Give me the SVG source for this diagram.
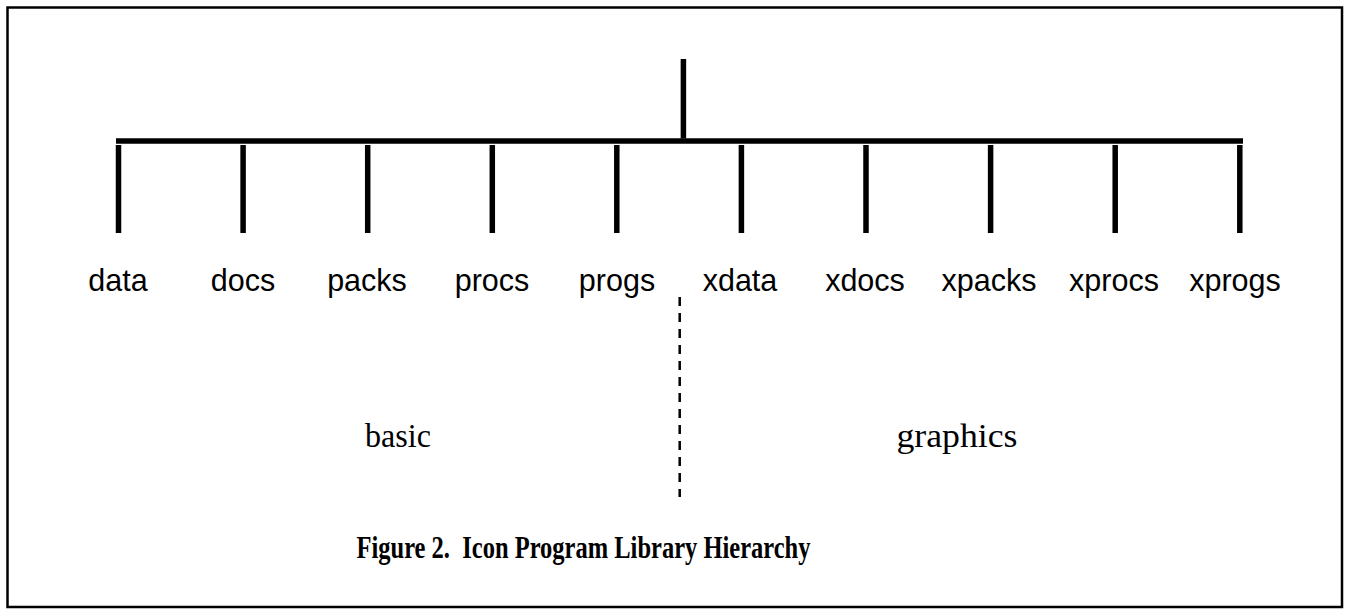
<svg xmlns="http://www.w3.org/2000/svg" width="1348" height="610" viewBox="0 0 1348 610">
<style>
.frame{fill:none;stroke:#000;stroke-width:2.5}
.bar{stroke:#000;stroke-width:5.5;fill:none}
.dash{stroke:#000;stroke-width:2.5;stroke-dasharray:9 7;fill:none}
.lbl{font-family:"Liberation Sans",Arial,sans-serif;font-size:30.5px;text-anchor:middle;fill:#000}
.grp{font-family:"Liberation Serif","Times New Roman",serif;font-size:34px;text-anchor:middle;fill:#000}
.title{font-family:"Liberation Serif","Times New Roman",serif;font-weight:bold;font-size:32px;text-anchor:middle;fill:#000}
</style>
<rect width="1348" height="610" fill="#fff"/>
<rect class="frame" x="7.5" y="7.5" width="1334.5" height="599.5"/>
<g id="connectors">
<line class="bar" x1="683.4" y1="59" x2="683.4" y2="138.5"/>
<line class="bar" x1="116" y1="141" x2="1243" y2="141"/>
<line class="bar" x1="118.5" y1="145" x2="118.5" y2="233"/>
<line class="bar" x1="243.1" y1="145" x2="243.1" y2="233"/>
<line class="bar" x1="367.7" y1="145" x2="367.7" y2="233"/>
<line class="bar" x1="492.3" y1="145" x2="492.3" y2="233"/>
<line class="bar" x1="616.8" y1="145" x2="616.8" y2="233"/>
<line class="bar" x1="741.4" y1="145" x2="741.4" y2="233"/>
<line class="bar" x1="866" y1="145" x2="866" y2="233"/>
<line class="bar" x1="990.6" y1="145" x2="990.6" y2="233"/>
<line class="bar" x1="1115.2" y1="145" x2="1115.2" y2="233"/>
<line class="bar" x1="1239.8" y1="145" x2="1239.8" y2="233"/>
<line class="dash" x1="679.7" y1="297" x2="679.7" y2="497"/>
</g>
<g id="node-data"><text class="lbl" x="118" y="291">data</text></g>
<g id="node-docs"><text class="lbl" x="243" y="291">docs</text></g>
<g id="node-packs"><text class="lbl" x="367" y="291">packs</text></g>
<g id="node-procs"><text class="lbl" x="492" y="291">procs</text></g>
<g id="node-progs"><text class="lbl" x="617" y="291">progs</text></g>
<g id="node-xdata"><text class="lbl" x="740" y="291">xdata</text></g>
<g id="node-xdocs"><text class="lbl" x="865" y="291">xdocs</text></g>
<g id="node-xpacks"><text class="lbl" x="989" y="291">xpacks</text></g>
<g id="node-xprocs"><text class="lbl" x="1114" y="291">xprocs</text></g>
<g id="node-xprogs"><text class="lbl" x="1235" y="291">xprogs</text></g>
<g id="group-basic"><text class="grp" x="398" y="447" textLength="66" lengthAdjust="spacingAndGlyphs">basic</text></g>
<g id="group-graphics"><text class="grp" x="957" y="447" textLength="121" lengthAdjust="spacingAndGlyphs">graphics</text></g>
<g id="caption"><text class="title" x="583.5" y="558" textLength="454" lengthAdjust="spacingAndGlyphs" xml:space="preserve">Figure 2.  Icon Program Library Hierarchy</text></g>
</svg>
